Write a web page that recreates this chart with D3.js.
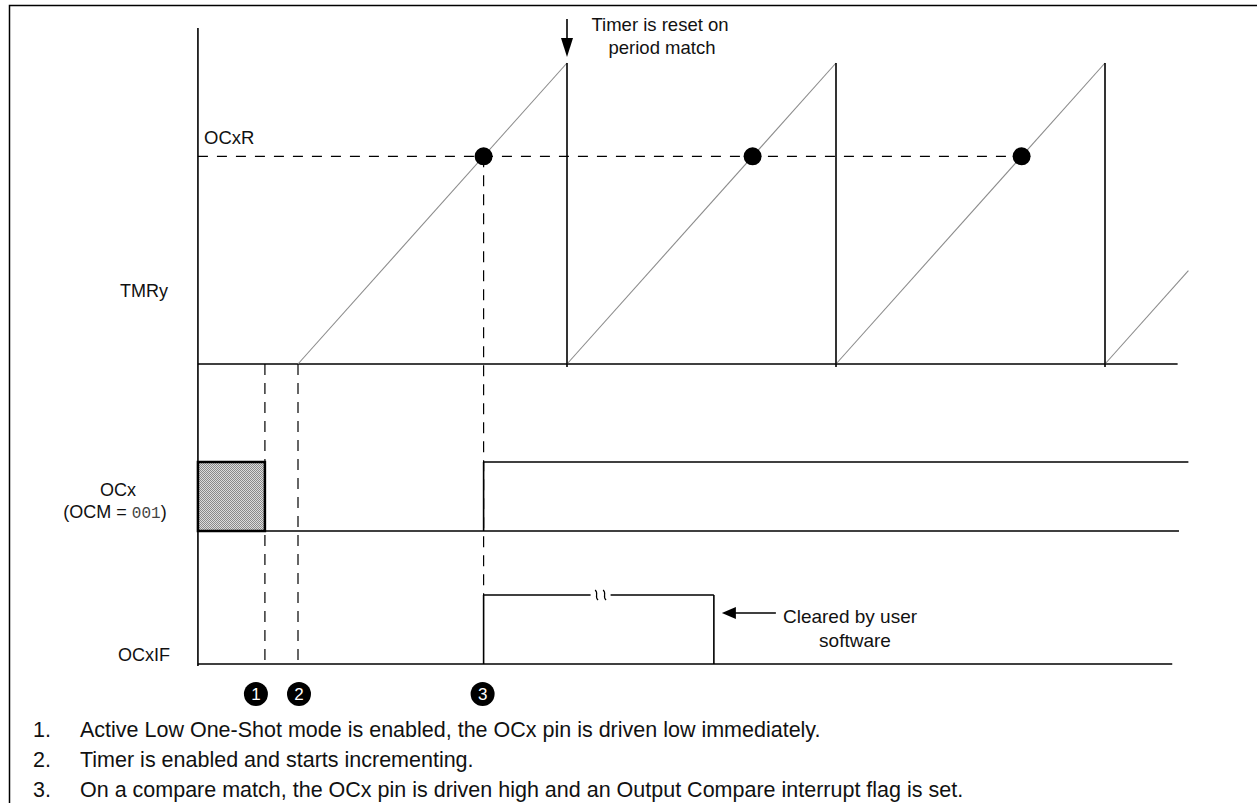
<!DOCTYPE html>
<html>
<head>
<meta charset="utf-8">
<script src="https://cdn.jsdelivr.net/npm/d3@7/dist/d3.min.js"></script>
<style>
body { margin: 0; background: #fff; }
text { font-family: "Liberation Sans", Arial, sans-serif; fill: #111; }
</style>
</head>
<body>
<script>
// time is in timer counts, one period = 100 counts
var axisStart = -37.2;
var rampStarts = [0, 100, 200, 300];
var rampEnds = [100, 200, 300, 331];
var resetTimes = [100, 200, 300];
var timerPeriod = 100;
var compareValue = 69;
var matchTimes = [69, 169, 269];

var eventTimes = [-12.3, 0, 69];
var eventLabels = ["1", "2", "3"];

var ocxUnknownEnd = -12.3;
var ocxHighStart = 69;
var ocxHighEnd = 331;
var flagSet = 69;
var flagBreak = 111;
var flagCleared = 154.6;

var tmrEnd = 327, ocxLowEnd = 327.5, flagEnd = 325;

var notes = [
    "Active Low One-Shot mode is enabled, the OCx pin is driven low immediately.",
    "Timer is enabled and starts incrementing.",
    "On a compare match, the OCx pin is driven high and an Output Compare interrupt flag is set."
];

var svg = d3.select("body").append("svg").attr("width", 1257).attr("height", 803);

var x = d3.scaleLinear().domain([0, timerPeriod]).range([298, 567]);
var yTmr = d3.scaleLinear().domain([0, timerPeriod]).range([364, 63]);
var yOcx = d3.scaleLinear().domain([0, 1]).range([531, 462]);
var yFlag = d3.scaleLinear().domain([0, 1]).range([664, 595]);

// stipple for the unknown state
var pat = svg.append("defs").append("pattern").attr("id", "stip")
    .attr("width", 2).attr("height", 2).attr("patternUnits", "userSpaceOnUse");
pat.append("rect").attr("width", 2).attr("height", 2).attr("fill", "#dcdcdc");
pat.append("rect").attr("width", 1).attr("height", 1).attr("fill", "#8a8a8a");
pat.append("rect").attr("x", 1).attr("y", 1).attr("width", 1).attr("height", 1).attr("fill", "#8a8a8a");

// frame
svg.append("rect").attr("x", 9.5).attr("y", 5.5).attr("width", 1300).attr("height", 900)
    .attr("fill", "none").attr("stroke", "#000").attr("stroke-width", 1.5);

function line(x1, y1, x2, y2) {
    return svg.append("line").attr("x1", x1).attr("y1", y1).attr("x2", x2).attr("y2", y2)
        .attr("stroke", "#000").attr("stroke-width", 1.6);
}

// OCxR dashed compare level
line(x(axisStart), yTmr(compareValue), x(matchTimes[matchTimes.length - 1]), yTmr(compareValue))
    .attr("stroke-width", 1.2).attr("stroke-dasharray", "10,9");

// event dashed lines
line(x(eventTimes[0]), yTmr(0), x(eventTimes[0]), yFlag(0)).attr("stroke-width", 1.2).attr("stroke-dasharray", "11,8");
line(x(eventTimes[1]), yTmr(0), x(eventTimes[1]), yFlag(0)).attr("stroke-width", 1.2).attr("stroke-dasharray", "11,8");
line(x(eventTimes[2]), yTmr(compareValue), x(eventTimes[2]), yFlag(1)).attr("stroke-width", 1.2).attr("stroke-dasharray", "11,8");

// axes / baselines
line(x(axisStart), 28, x(axisStart), yFlag(0) + 2);
line(x(axisStart), yTmr(0), x(tmrEnd), yTmr(0));
line(x(axisStart), yOcx(0), x(ocxLowEnd), yOcx(0));
line(x(axisStart), yFlag(0), x(flagEnd), yFlag(0));

// timer ramps
svg.selectAll(".ramp").data(rampStarts).enter().append("line")
    .attr("class", "ramp")
    .attr("x1", function(d) { return x(d); })
    .attr("y1", yTmr(0))
    .attr("x2", function(d, i) { return x(rampEnds[i]); })
    .attr("y2", function(d, i) { return yTmr(rampEnds[i] - d); })
    .attr("stroke", "#8c8c8c").attr("stroke-width", 1.1);

// resets
svg.selectAll(".reset").data(resetTimes).enter().append("line")
    .attr("class", "reset")
    .attr("x1", function(d) { return x(d); }).attr("x2", function(d) { return x(d); })
    .attr("y1", yTmr(timerPeriod)).attr("y2", yTmr(0) + 3)
    .attr("stroke", "#000").attr("stroke-width", 1.6);

// match dots
svg.selectAll(".dot").data(matchTimes).enter().append("circle")
    .attr("class", "dot")
    .attr("cx", function(d) { return x(d); })
    .attr("cy", yTmr(compareValue))
    .attr("r", 9).attr("fill", "#000");

// OCx waveform
svg.append("rect").attr("x", x(axisStart)).attr("y", yOcx(1))
    .attr("width", x(ocxUnknownEnd) - x(axisStart)).attr("height", yOcx(0) - yOcx(1))
    .attr("fill", "url(#stip)").attr("stroke", "#000").attr("stroke-width", 2.5);
line(x(ocxHighStart), yOcx(0), x(ocxHighStart), yOcx(1));
line(x(ocxHighStart), yOcx(1), x(ocxHighEnd), yOcx(1));

// OCxIF waveform with break
line(x(flagSet), yFlag(0), x(flagSet), yFlag(1));
line(x(flagSet), yFlag(1), x(flagBreak) - 6, yFlag(1));
line(x(flagBreak) + 14, yFlag(1), x(flagCleared), yFlag(1));
line(x(flagCleared), yFlag(1), x(flagCleared), yFlag(0));
[0, 8].forEach(function(off) {
    var cx = x(flagBreak) + off, cy = yFlag(1);
    svg.append("path")
        .attr("d", "M" + (cx - 1.5) + "," + (cy - 5) + " C" + (cx + 2.5) + "," + (cy - 2) + " " + (cx - 2.5) + "," + (cy + 2) + " " + (cx + 1.5) + "," + (cy + 5))
        .attr("fill", "none").attr("stroke", "#000").attr("stroke-width", 1.2);
});

// reset arrow
var ax = x(resetTimes[0]);
line(ax, 19, ax, 40);
svg.append("path").attr("d", "M" + (ax - 6) + ",38 L" + (ax + 6) + ",38 L" + ax + ",57 Z").attr("fill", "#000");
svg.append("text").attr("x", 660).attr("y", 31).attr("text-anchor", "middle").attr("font-size", 18.5).text("Timer is reset on");
svg.append("text").attr("x", 662).attr("y", 54).attr("text-anchor", "middle").attr("font-size", 18.5).text("period match");

// cleared arrow
var cx0 = x(flagCleared) + 8, cy0 = 613;
line(cx0 + 13, cy0, cx0 + 54, cy0);
svg.append("path").attr("d", "M" + cx0 + "," + cy0 + " L" + (cx0 + 14) + "," + (cy0 - 6) + " L" + (cx0 + 14) + "," + (cy0 + 6) + " Z").attr("fill", "#000");
svg.append("text").attr("x", 850).attr("y", 623).attr("text-anchor", "middle").attr("font-size", 19).text("Cleared by user");
svg.append("text").attr("x", 855).attr("y", 647).attr("text-anchor", "middle").attr("font-size", 19).text("software");

// labels
svg.append("text").attr("x", 204).attr("y", 144).attr("font-size", 18.5).text("OCxR");
svg.append("text").attr("x", 144).attr("y", 297).attr("text-anchor", "middle").attr("font-size", 18).text("TMRy");
svg.append("text").attr("x", 118).attr("y", 496).attr("text-anchor", "middle").attr("font-size", 18).text("OCx");
var ocm = svg.append("text").attr("x", 115).attr("y", 518).attr("text-anchor", "middle").attr("font-size", 18);
ocm.append("tspan").text("(OCM = ");
ocm.append("tspan").attr("font-family", "Liberation Mono, monospace").attr("font-size", 16).style("fill", "#444").text("001");
ocm.append("tspan").text(")");
svg.append("text").attr("x", 144).attr("y", 661).attr("text-anchor", "middle").attr("font-size", 18).text("OCxIF");

// numbered markers
var nudge = [-9, 1, -1];
var mk = svg.selectAll(".mk").data(eventTimes).enter().append("g").attr("class", "mk")
    .attr("transform", function(d, i) { return "translate(" + (x(d) + nudge[i]) + ",694)"; });
mk.append("circle").attr("r", 12).attr("fill", "#000");
mk.append("text").attr("y", 6).attr("text-anchor", "middle").attr("font-size", 17)
    .style("fill", "#fff").text(function(d, i) { return eventLabels[i]; });

// footnotes
notes.forEach(function(n, i) {
    svg.append("text").attr("x", 33).attr("y", 737 + i * 30).attr("font-size", 21.5).text((i + 1) + ".");
    svg.append("text").attr("x", 80).attr("y", 737 + i * 30).attr("font-size", 21.5).text(n);
});
</script>
</body>
</html>
